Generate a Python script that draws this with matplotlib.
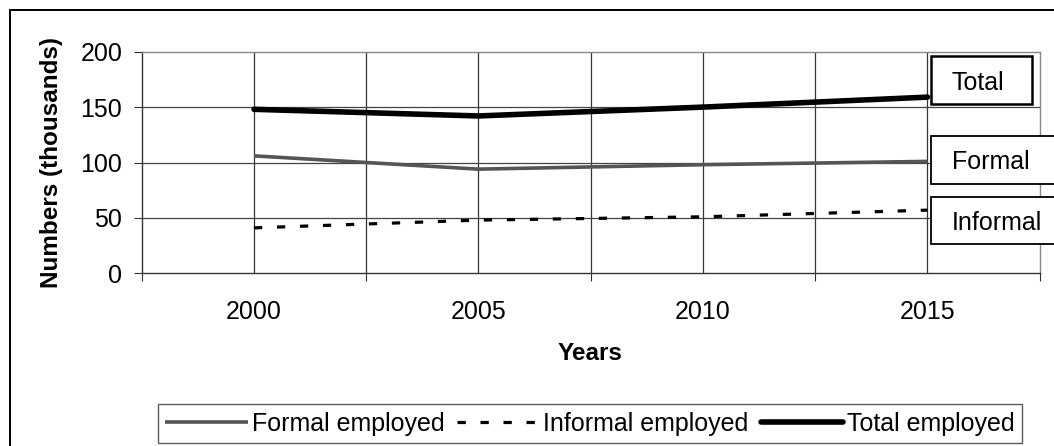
import matplotlib
matplotlib.use("Agg")
import matplotlib.pyplot as plt
from matplotlib.patches import Rectangle
from matplotlib.ticker import FixedLocator, MultipleLocator

plt.rcParams['font.family'] = ['Liberation Sans', 'DejaVu Sans']

years = ['2000', '2005', '2010', '2015']
formal = [106, 94, 98, 101]
informal = [41, 48, 51, 57]
total = [148, 142, 150, 159]
series_names = ['Formal employed', 'Informal employed', 'Total employed']
end_labels = ['Total', 'Formal', 'Informal']

W, H = 1054, 446
fig = plt.figure(figsize=(W / 100, H / 100), dpi=100)

def fx(px):
    return px / W

def fy(py):
    return 1 - py / H

# outer frame
fig.add_artist(Rectangle((fx(9.5), -0.02), 1.05, fy(10) + 0.02, transform=fig.transFigure,
                         fill=False, edgecolor='black', linewidth=1.4, zorder=0))

ax = fig.add_axes([fx(141.7), fy(273.3), fx(1039.7) - fx(141.7), fy(51.7) - fy(273.3)])
x = list(range(len(years)))

l1, = ax.plot(x, formal, color='#555555', linewidth=2.6, solid_capstyle='butt', zorder=3)
l2, = ax.plot(x, informal, color='black', linewidth=2.3, dashes=(2.6, 4.6), zorder=3)
l3, = ax.plot(x, total, color='black', linewidth=4.0, solid_capstyle='round', zorder=3)

ax.set_xlim(-0.5, 3.5)
ax.set_ylim(0, 200)
ax.yaxis.set_major_locator(MultipleLocator(50))
ax.set_xticks(x)
ax.set_xticklabels(years)
ax.xaxis.set_minor_locator(FixedLocator([-0.5, 0.5, 1.5, 2.5, 3.5]))
ax.tick_params(axis='x', which='major', length=0, pad=19, labelsize=18)
ax.tick_params(axis='x', which='minor', length=6, width=0.8, color='#333333')
ax.tick_params(axis='y', which='major', length=6, width=0.8, pad=8, labelsize=18, color='#333333')

for v in [0, 0.5, 1, 1.5, 2, 2.5, 3]:
    ax.axvline(v, color='#333333', linewidth=0.9, zorder=1)
for v in [50, 100, 150]:
    ax.axhline(v, color='#444444', linewidth=0.9, zorder=1)

ax.spines['left'].set_color('#333333')
ax.spines['bottom'].set_color('#333333')
ax.spines['top'].set_color('#888888')
ax.spines['right'].set_color('#888888')
for s in ax.spines.values():
    s.set_linewidth(1.0)

ax.set_ylabel('Numbers (thousands)', fontsize=17.5, fontweight='bold')
ax.yaxis.set_label_coords(-0.101, 0.502)
ax.yaxis.label.set_va('center')
ax.set_xlabel('Years', fontsize=17.5, fontweight='bold')
ax.xaxis.set_label_coords(0.499, -0.364)
ax.xaxis.label.set_va('center')

# end-of-line label boxes
boxes = [(931, 56, 1032, 104, 1.8), (931, 136, 1080, 184, 1.3), (931, 197, 1080, 244, 1.3)]
for (x0, y0, x1, y1, lw), lab in zip(boxes, end_labels):
    fig.add_artist(Rectangle((fx(x0), fy(y1)), fx(x1) - fx(x0), fy(y0) - fy(y1),
                             transform=fig.transFigure, facecolor='white', edgecolor='black',
                             linewidth=lw, zorder=5, clip_on=False))
    fig.text(fx(952), fy((y0 + y1) / 2), lab, fontsize=18, ha='left', va='center_baseline', zorder=6)

leg = fig.legend([l1, l2, l3], series_names, loc='center', bbox_to_anchor=(fx(590), fy(423.5)),
                 ncol=3, fontsize=18, frameon=True, fancybox=False, handlelength=3.3,
                 handletextpad=0.15, columnspacing=0.5, borderpad=0.3, borderaxespad=0)
leg.get_frame().set_edgecolor('#333333')
leg.get_frame().set_linewidth(1.0)

fig.savefig('out.png', dpi=100)
